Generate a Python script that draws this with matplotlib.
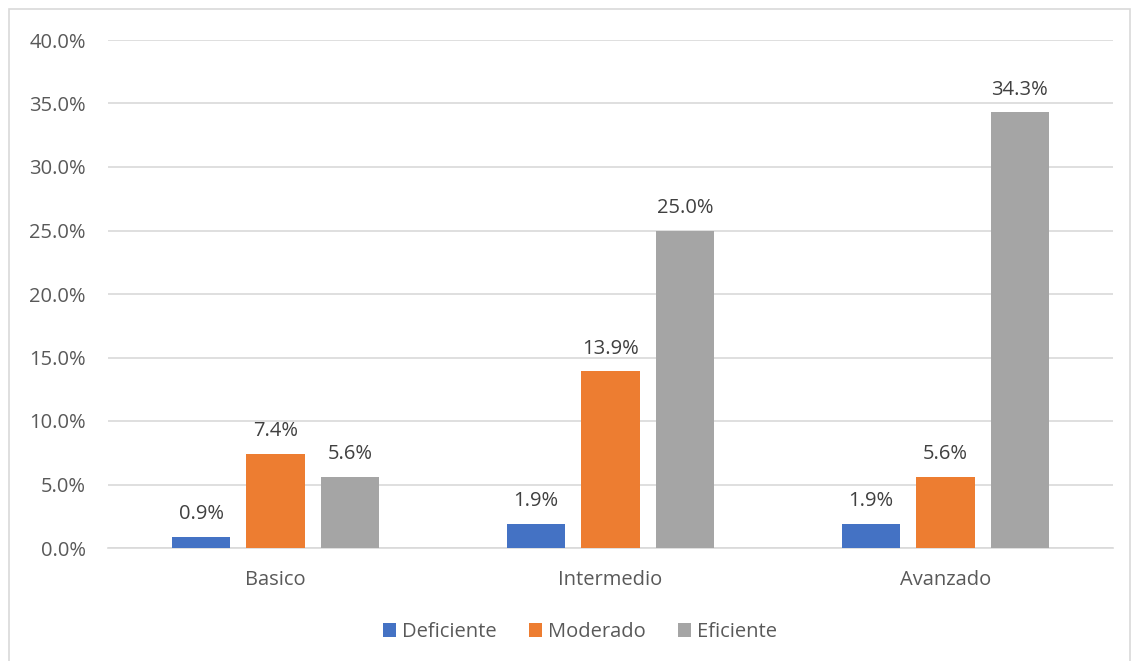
import numpy as np
import matplotlib
matplotlib.use('Agg')
from matplotlib import pyplot as plt
from matplotlib.patches import Rectangle

categories = ["Basico", "Intermedio", "Avanzado"]
series_names = ["Deficiente", "Moderado", "Eficiente"]
deficiente = [0.9, 1.9, 1.9]
moderado = [7.4, 13.9, 5.6]
eficiente = [5.6, 25.0, 34.3]
colors = ["#4472C4", "#ED7D31", "#A5A5A5"]
yticks = [0, 5, 10, 15, 20, 25, 30, 35, 40]

plt.rcParams['font.family'] = ['Open Sans', 'DejaVu Sans']
text_color = "#595959"
fs = 14.5

fig = plt.figure(figsize=(11.35, 6.61), dpi=100)
ax = fig.add_axes([108 / 1135, 1 - 548 / 661, (1113 - 108) / 1135, (548 - 40) / 661])

# outer chart border
fig.patches.append(Rectangle((9 / 1135, -0.01), (1130 - 9) / 1135, 1.01 - 9 / 661,
                             transform=fig.transFigure, fill=False,
                             edgecolor="#d9d9d9", linewidth=1.2))

x = np.arange(len(categories))
offsets = [-0.222, 0.0, 0.222]
width = 0.175
for vals, name, col, off in zip([deficiente, moderado, eficiente], series_names, colors, offsets):
    bars = ax.bar(x + off, vals, width, color=col, label=name, zorder=3)
    for b, v in zip(bars, vals):
        ax.text(b.get_x() + b.get_width() / 2, v + 1.0, "%.1f%%" % v,
                ha="center", va="bottom", fontsize=fs, color="#404040")

ax.set_xlim(-0.5, 2.5)
ax.set_ylim(0, 40)
ax.set_yticks(yticks)
ax.set_yticklabels(["%.1f%%" % t for t in yticks])
ax.set_xticks(x)
ax.set_xticklabels(categories)
ax.grid(axis="y", color="#d9d9d9", linewidth=1.2, zorder=0)
for s in ["top", "right", "left"]:
    ax.spines[s].set_visible(False)
ax.spines["bottom"].set_color("#d9d9d9")
ax.spines["bottom"].set_linewidth(1.2)
ax.tick_params(axis="both", length=0, labelsize=fs, colors=text_color)
ax.tick_params(axis="y", pad=16)
ax.tick_params(axis="x", pad=16)

ax.legend(loc="center", bbox_to_anchor=(580 / 1135, 1 - 632 / 661), bbox_transform=fig.transFigure,
          ncol=3, frameon=False, fontsize=fs, handlelength=0.65, handleheight=0.65,
          handletextpad=0.3, columnspacing=1.6, labelcolor=text_color)

fig.savefig("out.png", dpi=100)
